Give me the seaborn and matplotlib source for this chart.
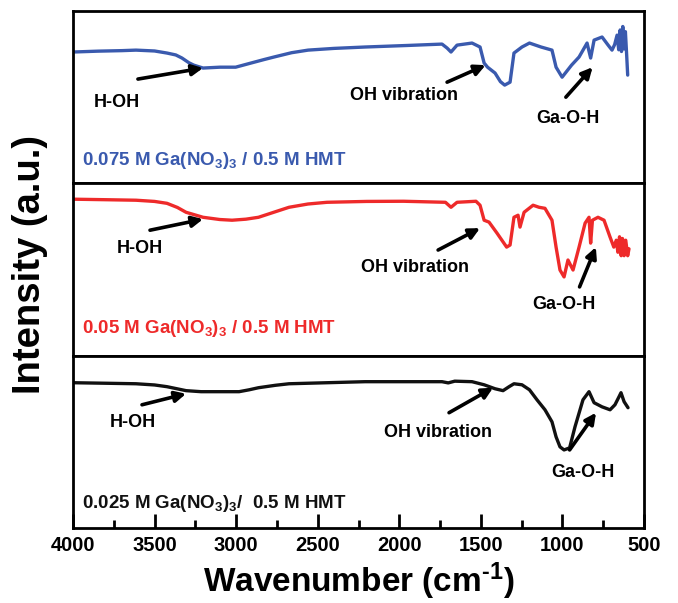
import matplotlib
matplotlib.use("Agg")
import matplotlib.pyplot as plt
import seaborn as sns
import pandas as pd

# FTIR spectra (wavenumber in cm-1, intensity in arbitrary units, 0-100 per panel)
wn_075 = [4000, 3847, 3700, 3614, 3500, 3424, 3370, 3332, 3290, 3260, 3203, 3099, 3003,
          2909, 2830, 2768, 2660, 2559, 2400, 2210, 1950, 1738, 1707, 1683, 1646, 1554,
          1505, 1480, 1459, 1413, 1380, 1354, 1321, 1297, 1248, 1202, 1131, 1064, 1039,
          1002, 978, 944, 898, 849, 827, 806, 757, 720, 696, 680, 665, 655, 646, 638,
          630, 622, 614, 606, 600]
it_075 = [76.2, 76.7, 77.0, 77.3, 76.8, 75.6, 74.5, 72.7, 70.0, 68.6, 66.9, 67.4, 67.4,
          69.8, 71.8, 73.3, 75.8, 77.3, 78.3, 79.1, 80.0, 80.8, 78.5, 76.2, 80.2, 81.4,
          79.1, 69.8, 67.4, 64.0, 59.0, 57.0, 58.7, 75.6, 79.1, 81.4, 79.1, 77.3, 67.4,
          61.6, 64.5, 68.6, 73.3, 81.4, 72.7, 83.1, 84.9, 80.2, 77.3, 80.5, 86.0, 77.5,
          89.0, 76.5, 91.0, 78.0, 88.0, 74.0, 62.8]

wn_050 = [4000, 3800, 3614, 3500, 3424, 3360, 3307, 3203, 3100, 3025, 2940, 2863, 2760,
          2676, 2560, 2443, 2200, 1974, 1717, 1683, 1646, 1530, 1505, 1480, 1450, 1401,
          1342, 1321, 1297, 1272, 1260, 1235, 1180, 1143, 1107, 1064, 1039, 1015, 990,
          966, 935, 898, 861, 837, 827, 816, 782, 745, 708, 685, 670, 660, 650, 640, 632,
          622, 612, 600, 592]
it_050 = [90.8, 90.5, 90.2, 89.5, 88.4, 86.0, 83.2, 80.3, 79.0, 78.6, 79.2, 80.3, 83.5,
          86.1, 88.0, 89.0, 89.5, 89.6, 89.0, 86.1, 89.0, 89.6, 87.3, 78.6, 77.5, 71.1,
          63.0, 64.2, 80.3, 81.5, 74.6, 83.2, 87.3, 86.1, 85.5, 78.6, 63.0, 49.7, 45.7,
          55.5, 49.7, 63.0, 76.9, 80.3, 65.3, 78.6, 80.3, 78.6, 68.8, 63.0, 67.0, 60.0,
          69.0, 58.0, 68.0, 58.0, 67.0, 58.0, 62.0]

wn_025 = [4000, 3800, 3614, 3500, 3424, 3307, 3215, 2982, 2920, 2863, 2760, 2676, 2210,
          1738, 1700, 1660, 1554, 1480, 1413, 1364, 1327, 1297, 1248, 1202, 1156, 1107,
          1064, 1039, 1015, 990, 956, 923, 874, 837, 806, 757, 708, 678, 653, 641, 622,
          598]
it_025 = [84.3, 84.0, 83.7, 83.0, 82.0, 79.7, 79.1, 79.1, 80.2, 81.4, 82.8, 83.7, 84.9,
          84.9, 84.2, 85.2, 84.9, 83.1, 80.8, 79.7, 82.0, 83.7, 83.1, 80.2, 74.4, 68.6,
          61.6, 52.9, 47.1, 45.3, 46.5, 58.7, 74.4, 79.1, 72.7, 70.3, 68.6, 71.5, 76.2,
          78.5, 73.3, 69.8]

sample_labels = ["0.075 M Ga(NO$_3$)$_3$ / 0.5 M HMT",
                 "0.05 M Ga(NO$_3$)$_3$ / 0.5 M HMT",
                 "0.025 M Ga(NO$_3$)$_3$/  0.5 M HMT"]
line_colors = ["#3a5aae", "#ee2a2a", "#111111"]

band_names = ["H-OH", "OH vibration", "Ga-O-H"]
# (text x, text y, arrow tail x, tail y, head x, head y) for each band, per panel
bands_075 = [(3730, 47.1, 3602, 60.5, 3203, 66.9),
             (1974, 51.2, 1707, 58.7, 1471, 68.6),
             (967, 37.8, 979, 50.0, 815, 67.4)]
bands_050 = [(3589, 62.4, 3528, 72.8, 3203, 79.2),
             (1904, 51.4, 1762, 61.3, 1505, 74.0),
             (990, 29.5, 895, 39.9, 795, 63.0)]
bands_025 = [(3635, 61.0, 3577, 71.5, 3307, 77.9),
             (1762, 55.2, 1695, 66.9, 1425, 81.4),
             (874, 32.0, 956, 45.3, 794, 66.9)]

x_ticks = [4000, 3500, 3000, 2500, 2000, 1500, 1000, 500]
x_minor = [3750, 3250, 2750, 2250, 1750, 1250, 750]

sns.set_theme(style="white")
plt.rcParams["font.family"] = ["Liberation Sans", "DejaVu Sans"]
plt.rcParams["font.weight"] = "bold"
plt.rcParams["text.color"] = "black"
plt.rcParams["axes.labelcolor"] = "black"
plt.rcParams["xtick.color"] = "black"
plt.rcParams["xtick.labelcolor"] = "black"
plt.rcParams["mathtext.fontset"] = "custom"
plt.rcParams["mathtext.rm"] = "Liberation Sans:bold"
plt.rcParams["mathtext.it"] = "Liberation Sans:bold"
plt.rcParams["mathtext.bf"] = "Liberation Sans:bold"
plt.rcParams["mathtext.default"] = "rm"

fig, axes = plt.subplots(3, 1, figsize=(6.78, 6.03), dpi=100, sharex=True,
                         gridspec_kw=dict(hspace=0))
fig.subplots_adjust(left=73 / 678, right=644 / 678, top=1 - 11 / 603, bottom=1 - 528 / 603)

series = [(wn_075, it_075, bands_075), (wn_050, it_050, bands_050), (wn_025, it_025, bands_025)]
label_y = [0.134, 0.157, 0.145]

for ax, (wn, it, bands), lab, col, ly in zip(axes, series, sample_labels, line_colors, label_y):
    df = pd.DataFrame({"wavenumber": wn, "intensity": it})
    sns.lineplot(data=df, x="wavenumber", y="intensity", ax=ax, color=col, lw=2.4,
                 sort=True, estimator=None)
    ax.set_ylim(0, 100)
    ax.set_xlim(4000, 500)
    ax.set_yticks([])
    ax.set_ylabel("")
    ax.set_xlabel("")
    for sp in ax.spines.values():
        sp.set_linewidth(2)
        sp.set_color("black")
    ax.text(0.016, ly, lab, transform=ax.transAxes, color=col, fontsize=13.5,
            fontweight="bold", va="center", ha="left")
    for name, (tx, ty, ax0, ay0, hx, hy) in zip(band_names, bands):
        ax.text(tx, ty, name, fontsize=13, fontweight="bold", ha="center",
                va="center", color="black")
        ax.annotate("", xy=(hx, hy), xytext=(ax0, ay0),
                    arrowprops=dict(arrowstyle="-|>", color="black", lw=2.6,
                                    mutation_scale=16, shrinkA=0, shrinkB=0))
    ax.tick_params(axis="x", which="both", bottom=False, labelbottom=False)

bottom_ax = axes[-1]
bottom_ax.set_xticks(x_ticks)
bottom_ax.set_xticks(x_minor, minor=True)
bottom_ax.tick_params(axis="x", which="both", direction="in", bottom=True,
                      labelbottom=True, width=2, color="black")
bottom_ax.tick_params(axis="x", which="major", length=10, labelsize=14.5, pad=6,
                      labelcolor="black")
bottom_ax.tick_params(axis="x", which="minor", length=6)
for t in bottom_ax.get_xticklabels():
    t.set_fontweight("bold")
bottom_ax.set_xlabel("Wavenumber (cm$^{\\text{-1}}$)", fontsize=24, fontweight="bold",
                     labelpad=4, color="black")

fig.text(30 / 678, 1 - 265 / 603, "Intensity (a.u.)", rotation=90, fontsize=27.5,
         fontweight="bold", ha="center", va="center", color="black")

fig.savefig("out.png", dpi=100, facecolor="white")
